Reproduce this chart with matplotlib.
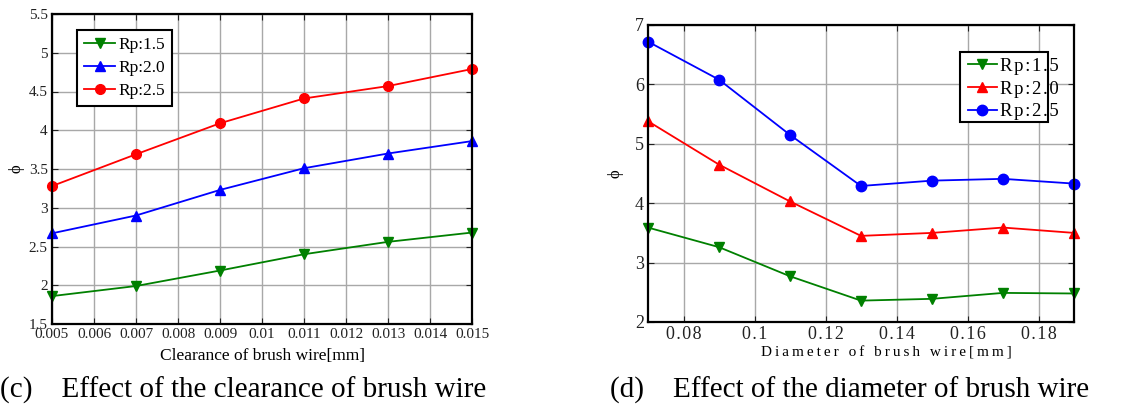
import matplotlib
matplotlib.use("Agg")
import matplotlib.pyplot as plt
from matplotlib.ticker import FixedLocator
from matplotlib.patches import Rectangle

plt.rcParams['font.family'] = ['Liberation Serif', 'DejaVu Serif']

# Left panel data (c)
clear_x = [0.005, 0.007, 0.009, 0.011, 0.013, 0.015]
c_rp15 = [1.86, 1.99, 2.19, 2.40, 2.56, 2.68]
c_rp20 = [2.67, 2.90, 3.23, 3.51, 3.70, 3.86]
c_rp25 = [3.28, 3.69, 4.09, 4.41, 4.57, 4.79]
c_xticks = [0.005, 0.006, 0.007, 0.008, 0.009, 0.01, 0.011, 0.012, 0.013, 0.014, 0.015]
c_xticklabels = ['0.005', '0.006', '0.007', '0.008', '0.009', '0.01', '0.011', '0.012', '0.013', '0.014', '0.015']
c_yticks = [1.5, 2, 2.5, 3, 3.5, 4, 4.5, 5, 5.5]
c_yticklabels = ['1.5', '2', '2.5', '3', '3.5', '4', '4.5', '5', '5.5']

# Right panel data (d)
diam_x = [0.07, 0.09, 0.11, 0.13, 0.15, 0.17, 0.19]
d_rp15 = [3.59, 3.26, 2.77, 2.36, 2.39, 2.49, 2.48]
d_rp20 = [5.38, 4.65, 4.03, 3.45, 3.50, 3.59, 3.50]
d_rp25 = [6.72, 6.08, 5.15, 4.29, 4.38, 4.41, 4.33]
d_xticks = [0.08, 0.10, 0.12, 0.14, 0.16, 0.18]
d_xticklabels = ['0.08', '0.1', '0.12', '0.14', '0.16', '0.18']
d_yticks = [2, 3, 4, 5, 6, 7]
d_yticklabels = ['2', '3', '4', '5', '6', '7']

W, H = 1144, 408
fig = plt.figure(figsize=(W / 100, H / 100), dpi=100)

def ax_at(l, r, t, b):
    return fig.add_axes([l / W, 1 - b / H, (r - l) / W, (b - t) / H])

def fx(px):
    return px / W

def fy(py):
    return 1 - py / H

GREEN = '#008000'

def style(ax, fs):
    ax.grid(True, color='#a8a8a8', linewidth=1.0)
    ax.tick_params(direction='in', top=True, right=True, length=4, width=0.8,
                   labelsize=fs, colors='#222222', pad=3)
    for s in ax.spines.values():
        s.set_linewidth(1.6)
        s.set_color('black')

def spaced(s, sep='\u200a'):
    return sep.join(s)

# ---- (c)
ax1 = ax_at(52, 472, 14, 324)
ax1.plot(clear_x, c_rp15, color=GREEN, marker='v', ms=7, lw=1.3, label='Rp:1.5', clip_on=False)
ax1.plot(clear_x, c_rp20, color='blue', marker='^', ms=7, lw=1.3, label='Rp:2.0', clip_on=False)
ax1.plot(clear_x, c_rp25, color='red', marker='o', ms=7, lw=1.3, label='Rp:2.5', clip_on=False)
ax1.set_xlim(0.005, 0.015)
ax1.set_ylim(1.5, 5.5)
ax1.xaxis.set_major_locator(FixedLocator(c_xticks))
ax1.set_xticklabels(c_xticklabels)
ax1.yaxis.set_major_locator(FixedLocator(c_yticks))
ax1.set_yticklabels(c_yticklabels)
style(ax1, 11)
ax1.set_xlabel('Clearance of brush wire[mm]', fontsize=12.5, labelpad=5)
ax1.set_ylabel('ϕ', fontsize=12, labelpad=3)
leg1 = ax1.legend(loc='upper left', bbox_to_anchor=(0.06, 0.95), fontsize=12.5,
                  frameon=True, fancybox=False, edgecolor='black', framealpha=1,
                  handlelength=1.8, handletextpad=0.15, borderpad=0.4, labelspacing=0.4,
                  borderaxespad=0)
leg1.get_frame().set_linewidth(1.5)

# ---- (d)
ax2 = ax_at(648, 1074, 25, 322)
ax2.plot(diam_x, d_rp15, color=GREEN, marker='v', ms=7.5, lw=1.3, label='Rp:1.5', clip_on=False)
ax2.plot(diam_x, d_rp20, color='red', marker='^', ms=7.5, lw=1.3, label='Rp:2.0', clip_on=False)
ax2.plot(diam_x, d_rp25, color='blue', marker='o', ms=7.5, lw=1.3, label='Rp:2.5', clip_on=False)
ax2.set_xlim(0.07, 0.19)
ax2.set_ylim(2, 7)
ax2.xaxis.set_major_locator(FixedLocator(d_xticks))
ax2.set_xticklabels([spaced(t) for t in d_xticklabels])
ax2.yaxis.set_major_locator(FixedLocator(d_yticks))
ax2.set_yticklabels(d_yticklabels)
style(ax2, 13)
ax2.set_xlabel(spaced('Diameter of brush wire[mm]', '\u2009'), fontsize=11)
ax2.xaxis.set_label_coords((886 - 648) / (1074 - 648), -(353 - 322) / (322 - 25))
ax2.xaxis.label.set_va('center')
ax2.set_ylabel('ϕ', fontsize=12, labelpad=8)

# legend: frame drawn separately (text overflows the frame as in reference)
ax2.add_patch(Rectangle((fx(960), fy(122)), fx(1048) - fx(960), fy(52) - fy(122),
                        transform=fig.transFigure, facecolor='white',
                        edgecolor='black', linewidth=1.5, zorder=4, clip_on=False))
leg2 = ax2.legend(loc='upper left', bbox_to_anchor=(fx(962), fy(52)),
                  bbox_transform=fig.transFigure, fontsize=13.5,
                  frameon=False, handlelength=1.55, handletextpad=0.15,
                  borderpad=0.3, labelspacing=0.3, borderaxespad=0)
leg2.set_zorder(6)
for t in leg2.get_texts():
    t.set_text(spaced(t.get_text()))

# captions
fig.text(0, fy(390), '(c)    Effect of the clearance of brush wire',
         fontsize=21, va='center', ha='left')
fig.text(fx(610), fy(390), '(d)    Effect of the diameter of brush wire',
         fontsize=21, va='center', ha='left')

fig.savefig('out.png', dpi=100)
